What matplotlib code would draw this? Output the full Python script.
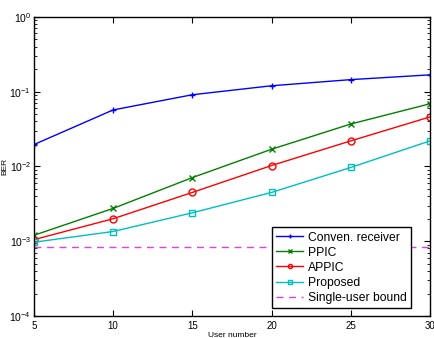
import matplotlib
matplotlib.use('Agg')
import matplotlib.pyplot as plt
from matplotlib.ticker import LogLocator, NullFormatter

plt.rcParams['font.family'] = 'Liberation Sans'
plt.rcParams['mathtext.fontset'] = 'custom'
plt.rcParams['mathtext.rm'] = 'Liberation Sans'

# user numbers
users = [5, 10, 15, 20, 25, 30]

# BER values
conven = [0.0196, 0.057, 0.091, 0.12, 0.145, 0.168]
ppic = [0.0012, 0.00275, 0.0071, 0.017, 0.037, 0.069]
appic = [0.00105, 0.0020, 0.0045, 0.0103, 0.022, 0.046]
proposed = [0.00097, 0.00135, 0.0024, 0.0045, 0.0097, 0.022]
single_user = 0.00083

fig = plt.figure(figsize=(4.34, 3.38), dpi=100)
ax = fig.add_axes([0.078, 0.065, 0.913, 0.885])

ax.semilogy(users, conven, 'b-', marker='+', ms=5, lw=1, label='Conven. receiver')
ax.semilogy(users, ppic, '-', color='#008000', marker='x', ms=4, lw=1, label='PPIC')
ax.semilogy(users, appic, 'r-', marker='o', ms=5, mfc='none', lw=1, label='APPIC')
ax.semilogy(users, proposed, '-', color='#00bfbf', marker='s', ms=5, mfc='none', lw=1, label='Proposed')
ax.semilogy([users[0], users[-1]], [single_user, single_user], '--', color='#e040e0',
            dashes=(5, 4), lw=1, label='Single-user bound')

ax.set_xlim(5, 30)
ax.set_ylim(1e-4, 1)
ax.set_xticks(users)
ax.yaxis.set_major_locator(LogLocator(base=10, numticks=10))
ax.yaxis.set_minor_locator(LogLocator(base=10, subs=range(2, 10), numticks=10))
ax.yaxis.set_minor_formatter(NullFormatter())
ax.tick_params(which='both', direction='in', top=True, right=True, labelsize=7)
ax.tick_params(axis='y', labelsize=7.5, pad=2)
ax.tick_params(which='major', length=4)
ax.tick_params(which='minor', length=2)
for s in ax.spines.values():
    s.set_linewidth(1)

ax.set_xlabel('User number', fontsize=6, labelpad=1)
ax.set_ylabel('BER', fontsize=6)
ax.yaxis.set_label_coords(-0.065, 0.5)

leg = ax.legend(loc='lower right', bbox_to_anchor=(411 / 434, 1 - 308 / 338),
                bbox_transform=fig.transFigure, borderaxespad=0,
                fontsize=8.7, fancybox=False, edgecolor='black',
                framealpha=1, handlelength=2.2, markerscale=0.6,
                labelspacing=0.25, borderpad=0.35, handletextpad=0.4)
leg.get_frame().set_linewidth(1)

fig.savefig('out.png', dpi=100)
